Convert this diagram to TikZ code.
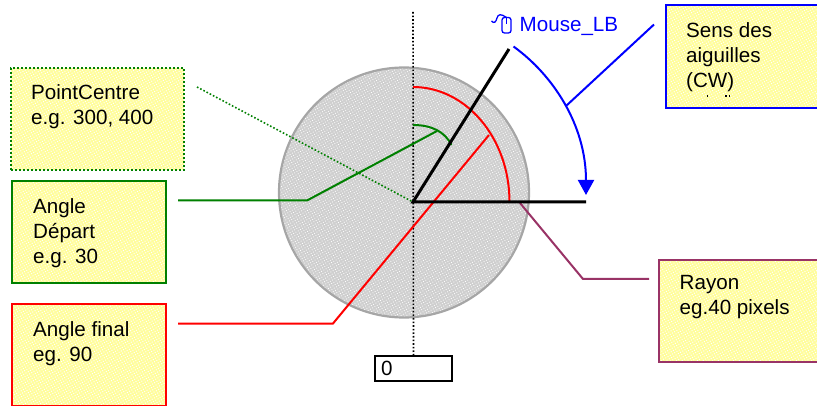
\documentclass[tikz,border=0pt]{standalone}
\usepackage{fontspec}
\setmainfont{Liberation Sans}
\usetikzlibrary{arrows.meta,patterns.meta}
\definecolor{boxfill}{HTML}{FFFD9C}
\definecolor{discfill}{HTML}{CFCFCF}
\definecolor{discline}{HTML}{A6A6A6}
\definecolor{dgreen}{HTML}{008000}
\definecolor{maroon}{HTML}{993366}
\tikzset{
  x=1pt,y=-1pt,
  note/.style={draw,preaction={fill=boxfill},pattern={Dots[radius=.7pt,distance=2.6pt,angle=30]},pattern color=white,line width=2pt,inner sep=0pt,outer sep=0pt},
  txt/.style={anchor=north west,align=left,inner sep=0pt,font=\fontsize{20.6}{25}\selectfont,text=black},
  link/.style={line width=2pt},
  blackline/.style={line width=3pt,black},
}
\begin{document}
\begin{tikzpicture}
\useasboundingbox (0,0) rectangle (817,406);
\clip (0,0) rectangle (817,406);
% disc
\node[draw=discline,preaction={fill=discfill},pattern={Dots[radius=.6pt,distance=2.6pt,angle=30]},pattern color=white,line width=2.2pt,circle,minimum size=250pt,inner sep=0pt] (disc) at (404,192.5) {};
% centre line
\coordinate (top) at (413,12);
\coordinate (O) at (413,202);
\node[draw,line width=1.6pt,minimum width=77pt,minimum height=25pt,inner sep=0pt] (zero) at (413.5,368.5) {};
\node[txt] (zerotxt) at (381,361) {0};
\draw[black,line width=1.6pt,dotted] (top) -- (zero.north);
% boxes
\node[note,draw=dgreen,dotted,minimum width=173pt,minimum height=102pt] (pc) at (97.5,119) {};
\node[txt] (pctxt) at (31,84) {PointCentre\\e.g. 300, 400};
\node[note,draw=dgreen,minimum width=153.5pt,minimum height=102pt] (ad) at (89.2,232.5) {};
\node[txt] (adtxt) at (33,198) {Angle\\Départ\\e.g. 30};
\node[note,draw=red,minimum width=153.5pt,minimum height=102pt] (af) at (89.2,355) {};
\node[txt] (aftxt) at (33,321) {Angle final\\eg. 90};
\node[note,draw=maroon,minimum width=175pt,minimum height=102pt] (ra) at (746.5,311) {};
\node[txt] (ratxt) at (679.5,275) {Rayon\\eg.40 pixels};
\node[note,draw=blue,minimum width=175pt,minimum height=103pt] (se) at (753.5,56.5) {};
\node[txt] (setxt) at (686,22) {Sens des\\aiguilles\\(CW)};
\fill (706.5,95.5) rectangle (708,97.5);
\fill (725,95.5) rectangle (726.5,97.5);
\fill (728.5,95) rectangle (730,97);
% connectors
\coordinate (pcs) at (197,87);
\draw[dgreen,line width=1.6pt,dotted] (pcs) -- (O);
\coordinate (ads) at (178,200.5);
\coordinate (adk) at (307,200.5);
\coordinate (ade) at (437,131);
\draw[dgreen,link,line join=round] (ads) -- (adk) -- (ade);
\coordinate (afs) at (178,323.5);
\coordinate (afk) at (333,323.5);
\coordinate (afe) at (489,135);
\draw[red,link] (afs) -- (afk) -- (afe);
\coordinate (rae) at (520,203);
\coordinate (rak) at (583,279);
\coordinate (ras) at (649,279);
\draw[maroon,link] (rae) -- (rak) -- (ras);
% arcs
\coordinate (gs) at (413,125);
\coordinate (ge) at (451.5,145);
\draw[dgreen,line width=2pt] (gs) .. controls (432,125) and (445,132) .. (ge);
\coordinate (rs) at (413,87);
\coordinate (re) at (509.5,202);
\draw[red,line width=2pt] (rs) .. controls (466,87) and (509.5,138) .. (re);
% black angle lines
\coordinate (b1) at (509,49);
\coordinate (b2) at (586,202);
\draw[blackline] (b1) -- (O) -- (b2);
% blue arrow
\coordinate (as) at (513.5,46.5);
\coordinate (ae) at (586,195);
\draw[blue,line width=2pt,-{Triangle[length=15pt,width=16pt]}] (as) .. controls (553,75) and (586,125) .. (ae);
\coordinate (bc) at (566,106);
\coordinate (bs) at (654,24.5);
\draw[blue,line width=2pt] (bs) -- (bc);
% mouse label
\node[txt,text=blue] (ml) at (519.5,17) {Mouse\_LB};
\draw[blue,line width=1.3pt,rounded corners=2.5pt] (502,17.5) rectangle (511,33);
\draw[blue,line width=1pt] (506.5,17.5) -- (506.5,24);
\draw[blue,line width=1.3pt] (491.5,21) .. controls (494,24) and (496,22) .. (497,18) .. controls (498,14) and (501,13.5) .. (506.5,17.5);
\end{tikzpicture}
\end{document}
